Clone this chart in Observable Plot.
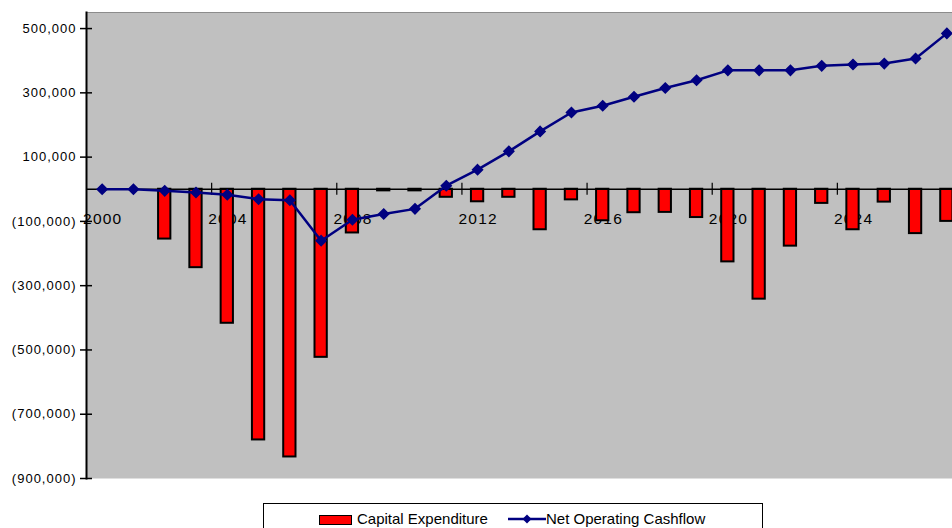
<!DOCTYPE html>
<html><head><meta charset="utf-8">
<script src="https://cdn.jsdelivr.net/npm/d3@7"></script>
<script src="https://cdn.jsdelivr.net/npm/@observablehq/plot@0.6"></script>
<style>
html,body{margin:0;padding:0;background:#fff;overflow:hidden;width:952px;height:528px;}
#chart{position:absolute;left:0;top:0;width:952px;height:490px;overflow:hidden;}
#chart svg g[aria-label="y-axis tick label"] text{letter-spacing:1px;}
#chart svg g.xlab text{letter-spacing:1.2px;}
#legend{position:absolute;left:263px;top:503px;width:500px;height:36px;border:1px solid #000;box-sizing:border-box;background:#fff;font-family:"Liberation Sans",Arial,sans-serif;font-size:15px;color:#000;}
#legend .sw{position:absolute;left:55px;top:11px;width:31px;height:8px;background:#ff0000;border:1.5px solid #000;}
#legend .t{position:absolute;top:6px;line-height:18px;white-space:nowrap;}
#legend svg{position:absolute;left:244px;top:9px;}
</style></head><body>
<div id="chart"></div>
<div id="legend">
  <span class="sw"></span><span class="t" style="left:93px">Capital Expenditure</span>
  <svg width="38" height="12"><line x1="0" y1="6" x2="38" y2="6" stroke="#000080" stroke-width="2.5"/><path d="M19,1.5L23.5,6L19,10.5L14.5,6Z" fill="#000080"/></svg>
  <span class="t" style="left:282px">Net Operating Cashflow</span>
</div>
<script>
const years = [2000,2001,2002,2003,2004,2005,2006,2007,2008,2009,2010,2011,2012,2013,2014,2015,2016,2017,2018,2019,2020,2021,2022,2023,2024,2025,2026,2027];
const capex = [0,0,-155000,-244000,-417000,-780000,-833000,-523000,-136000,-5000,-5000,-25000,-39000,-25000,-126000,-33000,-98000,-73000,-72000,-88000,-226000,-342000,-177000,-44000,-126000,-40000,-138000,-100000];
const cashflow = [0,0,-5000,-10000,-17000,-31000,-34000,-160000,-95000,-77000,-61000,11000,61000,118000,180000,239000,260000,288000,315000,339000,370000,370000,370000,384000,388000,391000,407000,485000];
const labelYears = [2000,2004,2008,2012,2016,2020,2024];
const tickYears = [2004,2008,2012,2016,2020,2024];
const yTicks = [500000,300000,100000,-100000,-300000,-500000,-700000,-900000];

const data = years.map((year, i) => ({year, capex: capex[i], cash: cashflow[i]}));
const fmt = d3.format(",");
const yFmt = d => d < 0 ? `(${fmt(-d)})` : fmt(d);
const xRange = [86, 962];
const bw = (xRange[1] - xRange[0]) / years.length;

const chart = Plot.plot({
  width: 952, height: 490,
  marginLeft: 86, marginRight: 0, marginTop: 12, marginBottom: 12,
  style: {fontFamily: "'Liberation Sans', Arial, sans-serif", background: "transparent", color: "#000", overflow: "hidden"},
  x: {type: "band", domain: years, range: xRange, padding: 0, round: false, axis: null},
  y: {domain: [-900000, 550000], axis: null},
  marks: [
    Plot.frame({fill: "#c0c0c0", stroke: null}),
    Plot.frame({anchor: "top", stroke: "#8c8c8c", strokeWidth: 1}),
    Plot.text(labelYears, {x: d => d, y: 0, dy: 30, dx: 0.6, text: d => String(d), fontSize: 15.5, fill: "#000", className: "xlab"}),
    Plot.barY(data, {x: "year", y: "capex", fill: "#ff0000", stroke: "#000", strokeWidth: 2, insetLeft: 9.5, insetRight: 9.5}),
    Plot.ruleY([0], {stroke: "#000", strokeWidth: 1.5}),
    Plot.ruleX(tickYears, {x: d => d, y1: -19000, y2: 19000, dx: -bw / 2, stroke: "#000", strokeWidth: 1.2}),
    Plot.line(data, {x: "year", y: "cash", stroke: "#000080", strokeWidth: 2.5}),
    Plot.dot(data, {x: "year", y: "cash", symbol: "diamond2", r: 4.5, fill: "#000080", stroke: "#000080"}),
    Plot.axisY({ticks: yTicks, tickFormat: yFmt, tickSize: 12, dx: 6, tickPadding: 4, fontSize: 13, stroke: "#000", strokeWidth: 1.5, fill: "#000"}),
    Plot.frame({anchor: "left", stroke: "#000", strokeWidth: 2})
  ]
});
document.getElementById("chart").appendChild(chart);
</script>
</body></html>
